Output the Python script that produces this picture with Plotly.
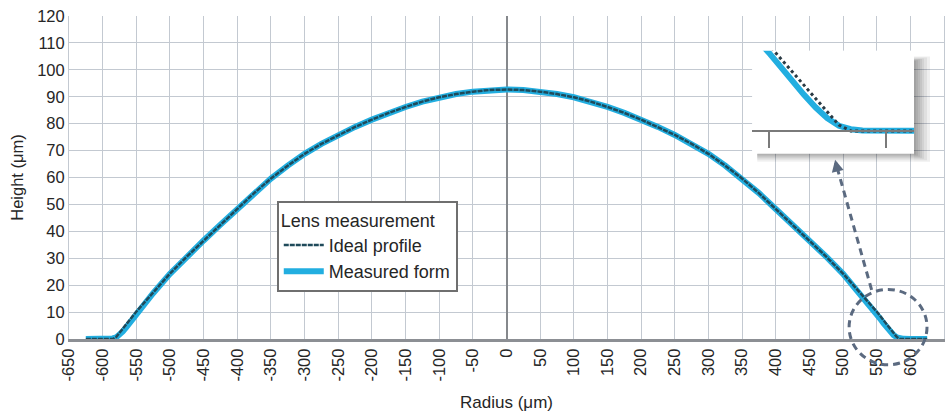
import plotly.graph_objects as go

# ---------------- data ----------------
radius = [-625, -600, -590, -585, -580, -575, -570, -565, -560, -555, -550, -525,
          -500, -475, -450, -425, -400, -375, -350, -325, -300, -275, -250, -225,
          -200, -175, -150, -125, -100, -75, -50, -25, 0, 25, 50, 75, 100, 125,
          150, 175, 200, 225, 250, 275, 300, 325, 350, 375, 400, 425, 450, 475,
          500, 525, 550, 555, 560, 565, 570, 575, 580, 585, 590, 600, 625]

ideal_height = [0, 0, 0, 0, 0.7, 2.2, 3.8, 5.4, 7.0, 8.6, 10.2, 17.4,
                24.3, 30.6, 36.6, 42.5, 48.3, 54.2, 59.6, 64.4, 68.8, 72.5, 75.8, 78.8,
                81.5, 84.0, 86.2, 88.2, 89.8, 91.0, 91.9, 92.5, 92.7, 92.5, 91.9, 91.0, 89.8, 88.2,
                86.2, 84.0, 81.5, 78.8, 75.8, 72.5, 68.8, 64.4, 59.6, 54.2, 48.3, 42.5, 36.6, 30.6,
                24.3, 17.4, 10.2, 8.6, 7.0, 5.4, 3.8, 2.2, 0.7, 0, 0, 0, 0]

measured_height = [0, 0, 0.05, 0.2, 0.6, 1.5, 2.8, 4.3, 5.9, 7.6, 9.3, 17.0,
                   24.2, 30.6, 36.6, 42.5, 48.3, 54.2, 59.6, 64.4, 68.8, 72.5, 75.8, 78.8,
                   81.5, 84.0, 86.2, 88.2, 89.8, 91.0, 91.9, 92.5, 92.7, 92.5, 91.9, 91.0, 89.8, 88.2,
                   86.2, 84.0, 81.5, 78.8, 75.8, 72.5, 68.8, 64.4, 59.6, 54.2, 48.3, 42.5, 36.6, 30.6,
                   24.2, 17.0, 9.3, 7.6, 5.9, 4.3, 2.8, 1.5, 0.6, 0.2, 0.05, 0, 0]

x_tickvals = list(range(-650, 651, 50))
x_ticktext = [str(v) for v in x_tickvals]   # plain hyphen minus
y_tickvals = list(range(0, 121, 10))

inset_x_range = [543, 612]
inset_y_range = [-2.7, 9.5]
inset_tickvals = [550, 600]

# ---------------- styling ----------------
FONT = "Liberation Sans, Arial, sans-serif"
CYAN = "#22aee0"
DARK = "#1f4a5a"
GRID = "#c3c9d1"
GRAYLINE = "#8c8f94"
CONNECT = "#5b6a80"

# plot area in px
L, R, T, B = 69, 7, 13, 78
W, H = 952, 417
PW, PH = W - L - R, H - T - B

def px_x(p):
    return (p - L) / PW

def px_y(p):
    return (H - B - p) / PH

fig = go.Figure()

fig.add_trace(go.Scatter(x=radius, y=measured_height, mode="lines", name="Measured form",
                         line=dict(color=CYAN, width=6), legendrank=2))
fig.add_trace(go.Scatter(x=radius, y=ideal_height, mode="lines", name="Ideal profile",
                         line=dict(color=DARK, width=2.5, dash="5px,1px"), legendrank=1))

# inset traces
fig.add_trace(go.Scatter(x=radius, y=measured_height, mode="lines", showlegend=False,
                         line=dict(color=CYAN, width=6), xaxis="x2", yaxis="y2"))
fig.add_trace(go.Scatter(x=radius, y=ideal_height, mode="lines", showlegend=False,
                         line=dict(color="#2a3a44", width=3, dash="dot"), xaxis="x2", yaxis="y2"))

# inset domain
ix0, ix1 = px_x(753), px_x(915)
iy0, iy1 = px_y(152), px_y(48)
zero_pos = iy0 + (0 - inset_y_range[0]) / (inset_y_range[1] - inset_y_range[0]) * (iy1 - iy0)

shapes = []
# white background of inset, inside inset subplot (below its traces, above main grid)
shapes.append(dict(type="rect", xref="x2", yref="y2",
                   x0=inset_x_range[0], x1=inset_x_range[1],
                   y0=inset_y_range[0], y1=inset_y_range[1],
                   fillcolor="white", line=dict(width=0), layer="below"))
# soft drop shadow (right & bottom strips)
for w in [16, 13, 10, 8, 6, 4, 2]:
    shapes.append(dict(type="rect", xref="paper", yref="paper",
                       x0=px_x(915), x1=px_x(915 + w), y0=px_y(152 + w * 0.5), y1=px_y(54 + (16 - w) * 0.3),
                       fillcolor="#202020", opacity=0.07, line=dict(width=0), layer="above"))
    shapes.append(dict(type="rect", xref="paper", yref="paper",
                       x0=px_x(758), x1=px_x(915), y0=px_y(152 + w * 0.5), y1=px_y(152),
                       fillcolor="#202020", opacity=0.06, line=dict(width=0), layer="above"))
# dashed circle marking the magnified region
shapes.append(dict(type="circle", xref="paper", yref="paper",
                   x0=px_x(850), x1=px_x(928), y0=px_y(365), y1=px_y(289),
                   line=dict(color=CONNECT, width=3, dash="7px,5px"), layer="above"))
# dashed connector
shapes.append(dict(type="line", xref="paper", yref="paper",
                   x0=px_x(838), y0=px_y(166), x1=px_x(873), y1=px_y(291),
                   line=dict(color=CONNECT, width=3, dash="7px,5px"), layer="above"))

fig.update_layout(
    width=W, height=H,
    margin=dict(l=L, r=R, t=T, b=B),
    paper_bgcolor="white", plot_bgcolor="white",
    font=dict(family=FONT, size=16, color="#262626"),
    shapes=shapes,
    annotations=[dict(xref="paper", yref="paper", x=px_x(836), y=px_y(158),
                      ax=2, ay=9, showarrow=True, arrowhead=2, arrowsize=0.8,
                      arrowwidth=3, arrowcolor=CONNECT, text="")],
    legend=dict(x=px_x(277), y=px_y(200), xanchor="left", yanchor="top",
                bgcolor="white", bordercolor="#6f6f6f", borderwidth=2,
                font=dict(family=FONT, size=18, color="#262626"),
                title=dict(text="Lens measurement", font=dict(family=FONT, size=18)),
                traceorder="normal", itemwidth=40),
    xaxis=dict(range=[-650, 650], tickvals=x_tickvals, ticktext=x_ticktext,
               tickangle=-90, tickfont=dict(size=16.5),
               showgrid=True, gridcolor=GRID, gridwidth=1,
               zeroline=True, zerolinecolor="#85888c", zerolinewidth=2,
               showline=True, linecolor=GRAYLINE, linewidth=3, mirror=False,
               ticks="", title=dict(text="Radius (μm)", font=dict(size=17), standoff=16)),
    yaxis=dict(range=[0, 120], tickvals=y_tickvals, tickfont=dict(size=16.5),
               showgrid=True, gridcolor=GRID, gridwidth=1,
               zeroline=False, showline=True, linecolor=GRID, linewidth=1, mirror=True,
               ticks="", title=dict(text="Height (μm)", font=dict(size=16.5), standoff=9)),
    xaxis2=dict(domain=[ix0, ix1], range=inset_x_range, anchor="free", position=zero_pos,
                showgrid=False, zeroline=False, showticklabels=False,
                showline=True, linecolor="#7a7a7a", linewidth=2,
                ticks="outside", tickvals=inset_tickvals, ticklen=16, tickwidth=2,
                tickcolor="#7a7a7a"),
    yaxis2=dict(domain=[iy0, iy1], range=inset_y_range, anchor="x2",
                showgrid=False, zeroline=False, showticklabels=False, showline=False,
                ticks=""),
)

fig.write_html("out.html")
